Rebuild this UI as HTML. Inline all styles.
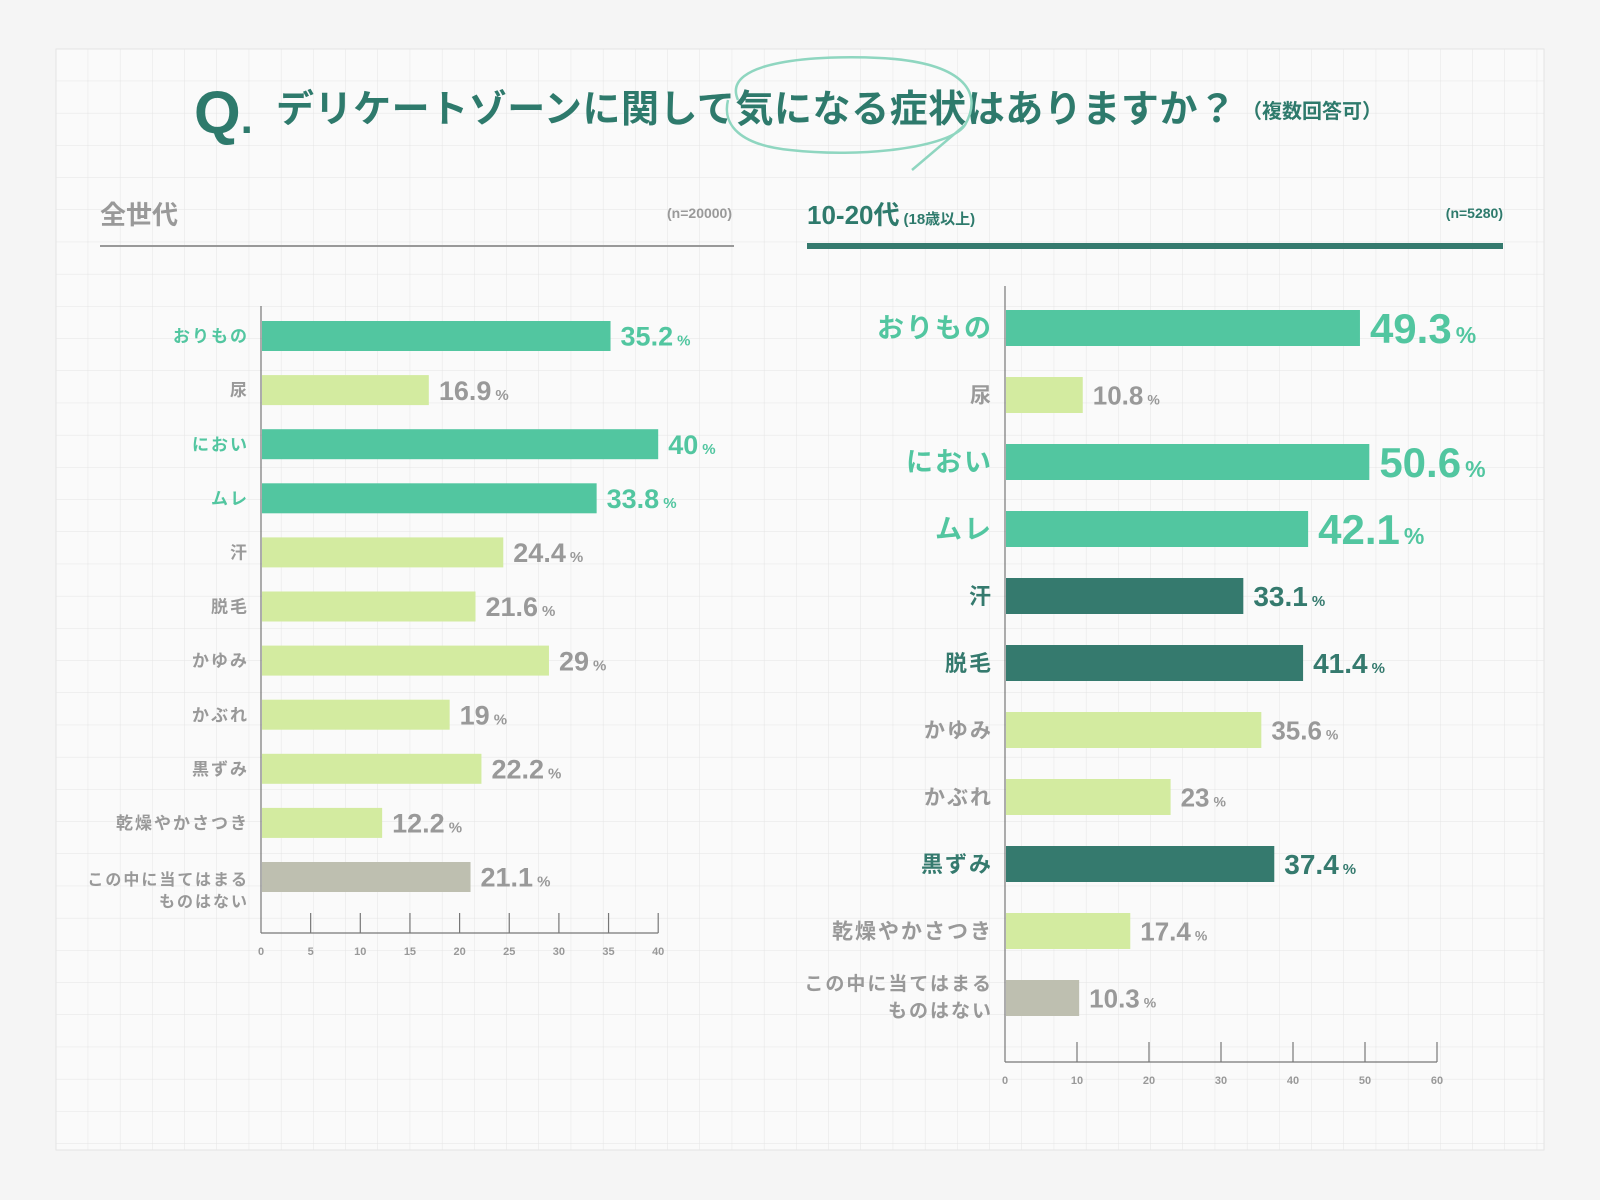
<!DOCTYPE html>
<html><head><meta charset="utf-8"><style>
html,body{margin:0;padding:0;background:#f5f5f5;}
svg{display:block;font-family:"Liberation Sans","Noto Sans CJK JP",sans-serif;}
</style></head><body>
<svg id="c" width="1600" height="1200" xmlns="http://www.w3.org/2000/svg">
<defs><pattern id="grid" width="32.2" height="32.2" patternUnits="userSpaceOnUse" x="56" y="49"><path d="M32.2 0V32.2H0" fill="none" stroke="#e4e4e4" stroke-width="1"/></pattern></defs>
<rect x="0" y="0" width="1600" height="1200" fill="#f5f5f5"/>
<rect x="56" y="49" width="1488" height="1101" fill="#fafafa" stroke="#e4e4e4"/>
<rect x="56" y="49" width="1488" height="1101" fill="url(#grid)"/>
<g>
<text x="194" y="133" font-size="60" font-weight="bold" fill="#2e7a6c">Q<tspan font-size="44">.</tspan></text>
<text x="276" y="122" font-size="38" font-weight="bold" fill="#2e7a6c" textLength="960">デリケートゾーンに関して気になる症状はありますか？</text>
<text x="1242" y="118" font-size="20" font-weight="bold" fill="#2e7a6c">（複数回答可）</text>
<path d="M738 100 C720 60 820 55 880 58 C960 62 985 90 965 125 C950 148 860 158 790 150 C740 145 722 125 728 100 M965 125 L912 170" fill="none" stroke="#8fd6c0" stroke-width="2.5"/>
</g>
<g>
<text x="100" y="224" font-size="26" font-weight="bold" fill="#999">全世代</text>
<text x="732" y="218" font-size="14" font-weight="bold" fill="#999" text-anchor="end">(n=20000)</text>
<line x1="100" y1="246" x2="734" y2="246" stroke="#999" stroke-width="2"/>
</g>
<g>
<text x="807" y="224" font-size="26" font-weight="bold" fill="#2e7a6c">10-20代<tspan font-size="15" dx="4">(18歳以上)</tspan></text>
<text x="1503" y="218" font-size="14" font-weight="bold" fill="#2e7a6c" text-anchor="end">(n=5280)</text>
<rect x="807" y="243" width="696" height="6" fill="#357a6e"/>
</g>
<g id="L"></g><g id="R"></g>
</svg>
<script>
const categories = ["おりもの","尿","におい","ムレ","汗","脱毛","かゆみ","かぶれ","黒ずみ","乾燥やかさつき","この中に当てはまる|ものはない"];
const leftValues = [35.2,16.9,40,33.8,24.4,21.6,29,19,22.2,12.2,21.1];
const rightValues = [49.3,10.8,50.6,42.1,33.1,41.4,35.6,23,37.4,17.4,10.3];
const leftKinds = ["g","l","g","g","l","l","l","l","l","l","n"];
const rightKinds = ["G","l","G","G","d","d","l","l","d","l","n"];
const leftTicks = [0,5,10,15,20,25,30,35,40];
const rightTicks = [0,10,20,30,40,50,60];
const NS="http://www.w3.org/2000/svg";
function mk(p,t,a){const e=document.createElementNS(NS,t);for(const k in a)e.setAttribute(k,a[k]);p.appendChild(e);return e;}
const fill={g:"#52c6a0",G:"#52c6a0",l:"#d3eba0",d:"#357a6e",n:"#bebfb0"};
const tcol={g:"#52c6a0",G:"#52c6a0",l:"#999",d:"#357a6e",n:"#999"};
function draw(g,cfg){
  const x=v=>cfg.x0+v*cfg.k, y=i=>cfg.y0+i*cfg.step;
  mk(g,"line",{x1:cfg.x0,y1:cfg.top,x2:cfg.x0,y2:cfg.bot,stroke:"#777","stroke-width":1.2});
  mk(g,"line",{x1:cfg.x0,y1:cfg.bot,x2:x(cfg.ticks[cfg.ticks.length-1]),y2:cfg.bot,stroke:"#777","stroke-width":1.2});
  cfg.ticks.forEach(t=>{
    if(t>0){mk(g,"line",{x1:x(t),y1:cfg.bot-20,x2:x(t),y2:cfg.bot,stroke:"#777","stroke-width":1.2});}
    const tx=mk(g,"text",{x:x(t),y:cfg.bot+22,"font-size":11,"font-weight":"bold",fill:"#999","text-anchor":"middle"});
    
    
    tx.textContent=t;
  });
  cfg.vals.forEach((v,i)=>{
    const kd=cfg.kinds[i], cy=y(i);
    const r=mk(g,"rect",{x:cfg.x0+1,y:cy-cfg.h/2,width:x(v)-cfg.x0-1,height:cfg.h,fill:fill[kd]});
    
    
    const big=kd==="G", dk=kd==="d";
    const lf=cfg.right?(big?27:dk?22:21):17;
    const lines=categories[i].split("|");
    lines.forEach((ln,j)=>{
      const fs=lines.length>1?(cfg.right?19:16):lf;
      const off=lines.length>1?cfg.multi[j]:0;
      const t=mk(g,"text",{x:cfg.x0-12,y:cy+off+fs*0.36,"font-size":fs,"font-weight":"bold",fill:tcol[kd],"text-anchor":"end","letter-spacing":"2"});
      
      
      t.textContent=ln;
    });
    const vf=cfg.right?(big?42:dk?28:26):27;
    const vt=mk(g,"text",{x:x(v)+10,y:cy+vf*0.36,"font-size":vf,"font-weight":"bold",fill:tcol[kd]});
    
    
    vt.textContent=v;
    const ps=mk(vt,"tspan",{"font-size":Math.round(vf*0.55),dx:4});
    ps.textContent="%";
  });
}
draw(document.getElementById("L"),{x0:261,k:9.93,y0:336,step:54.1,h:30,top:306,bot:933,ticks:leftTicks,vals:leftValues,kinds:leftKinds,right:false,multi:[2,24]});
draw(document.getElementById("R"),{x0:1005,k:7.2,y0:328,step:67,h:36,top:286,bot:1062,ticks:rightTicks,vals:rightValues,kinds:rightKinds,right:true,multi:[-15,12]});
</script>
</body></html>
